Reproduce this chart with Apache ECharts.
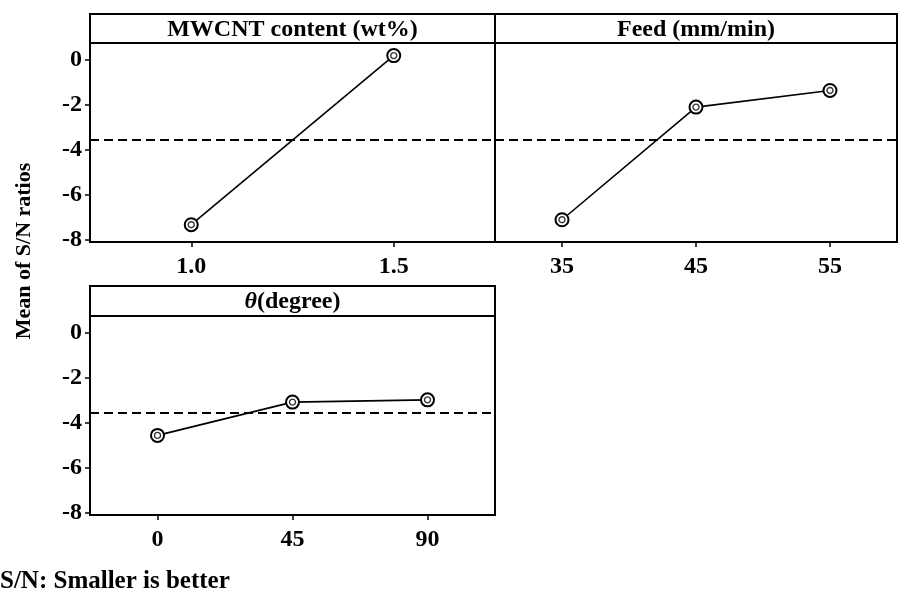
<!DOCTYPE html>
<html>
<head>
<meta charset="utf-8">
<script src="https://cdn.jsdelivr.net/npm/echarts@6/dist/echarts.min.js"></script>
<style>html,body{margin:0;padding:0;background:#fff}#c{width:903px;height:597px}</style>
</head>
<body>
<div id="c"></div>
<script>
const mwcntCats = ['1.0', '1.5'];
const mwcntSN = [-7.33, 0.19];
const feedCats = ['35', '45', '55'];
const feedSN = [-7.11, -2.10, -1.36];
const thetaCats = ['0', '45', '90'];
const thetaSN = [-4.56, -3.08, -2.98];
const overallMean = -3.57;
const yTicks = [0, -2, -4, -6, -8];
const panelTitles = ['MWCNT content (wt%)', 'Feed (mm/min)', '{i|θ}(degree)'];
const yAxisTitle = 'Mean of S/N ratios';
const footNote = 'S/N: Smaller is better';

const FONT = '"Liberation Serif", "Times New Roman", serif';
const chart = echarts.init(document.getElementById('c'), null, {renderer: 'canvas'});

const grids = [
  {left: 90, top: 43, width: 405, height: 199},
  {left: 495, top: 43, width: 402, height: 199},
  {left: 90, top: 316, width: 405, height: 199}
];
const cats = [mwcntCats, feedCats, thetaCats];
const vals = [mwcntSN, feedSN, thetaSN];

const xAxes = cats.map((c, i) => ({
  type: 'category', gridIndex: i, data: c, boundaryGap: true,
  axisLine: {show: true, onZero: false, lineStyle: {color: '#000', width: 2}},
  axisTick: {show: true, alignWithLabel: true, length: 5, lineStyle: {color: '#000', width: 1.5}},
  axisLabel: {color: '#000', fontFamily: FONT, fontWeight: 'bold', fontSize: 24, margin: 13},
  splitLine: {show: false}
}));
const yAxes = cats.map((c, i) => ({
  type: 'value', gridIndex: i, min: -8.1, max: 0.75,
  axisLine: {show: true, onZero: false, lineStyle: {color: '#000', width: 2}},
  axisTick: {show: i !== 1, length: 5, customValues: yTicks, lineStyle: {color: '#000', width: 1.5}},
  axisLabel: {show: i !== 1, customValues: yTicks, color: '#000', fontFamily: FONT, fontWeight: 'bold', fontSize: 24, margin: 8},
  splitLine: {show: false}
}));

const series = [];
vals.forEach((v, i) => {
  series.push({
    type: 'line', xAxisIndex: i, yAxisIndex: i, data: v,
    symbol: 'emptyCircle', symbolSize: 13,
    lineStyle: {color: '#000', width: 1.6},
    itemStyle: {color: '#000', borderColor: '#000', borderWidth: 1.8},
    z: 3,
    markLine: {
      silent: true, symbol: 'none', label: {show: false},
      lineStyle: {color: '#000', width: 1.8, type: [9, 5]},
      data: [{yAxis: overallMean}]
    }
  });
  series.push({
    type: 'scatter', xAxisIndex: i, yAxisIndex: i, data: v,
    symbol: 'circle', symbolSize: 6,
    itemStyle: {color: 'rgba(255,255,255,0)', borderColor: '#000', borderWidth: 1.4},
    z: 10
  });
});

const headers = [
  {x: 90, y: 14, w: 405, h: 29},
  {x: 495, y: 14, w: 402, h: 29},
  {x: 90, y: 286, w: 405, h: 30}
];
const graphic = [];
headers.forEach((h, i) => {
  graphic.push({
    type: 'rect', shape: {x: h.x, y: h.y, width: h.w, height: h.h},
    style: {fill: '#fff', stroke: '#000', lineWidth: 2}, z: 10
  });
});
graphic.push({
  type: 'text', x: 24, y: 251, rotation: Math.PI / 2,
  style: {text: yAxisTitle, fill: '#000', font: 'bold 22px ' + FONT, textAlign: 'center', textVerticalAlign: 'middle'}
});
graphic.push({
  type: 'text', x: 0, y: 582,
  style: {text: footNote, fill: '#000', font: 'bold 25px ' + FONT, textAlign: 'left', textVerticalAlign: 'middle'}
});

const titles = headers.map((h, i) => ({
  text: panelTitles[i],
  left: h.x + h.w / 2, top: h.y + h.h / 2 + 1,
  textAlign: 'center', textVerticalAlign: 'middle',
  padding: 0,
  textStyle: {
    color: '#000', fontFamily: FONT, fontWeight: 'bold', fontSize: 24,
    rich: {i: {fontStyle: 'italic', fontFamily: FONT, fontWeight: 'bold', fontSize: 24, color: '#000'}}
  },
  z: 20
}));

chart.setOption({
  animation: false,
  backgroundColor: '#fff',
  title: titles,
  grid: grids.map(g => Object.assign({show: true, borderColor: '#000', borderWidth: 2, containLabel: false}, g)),
  xAxis: xAxes,
  yAxis: yAxes,
  series: series,
  graphic: graphic
});
</script>
</body>
</html>
